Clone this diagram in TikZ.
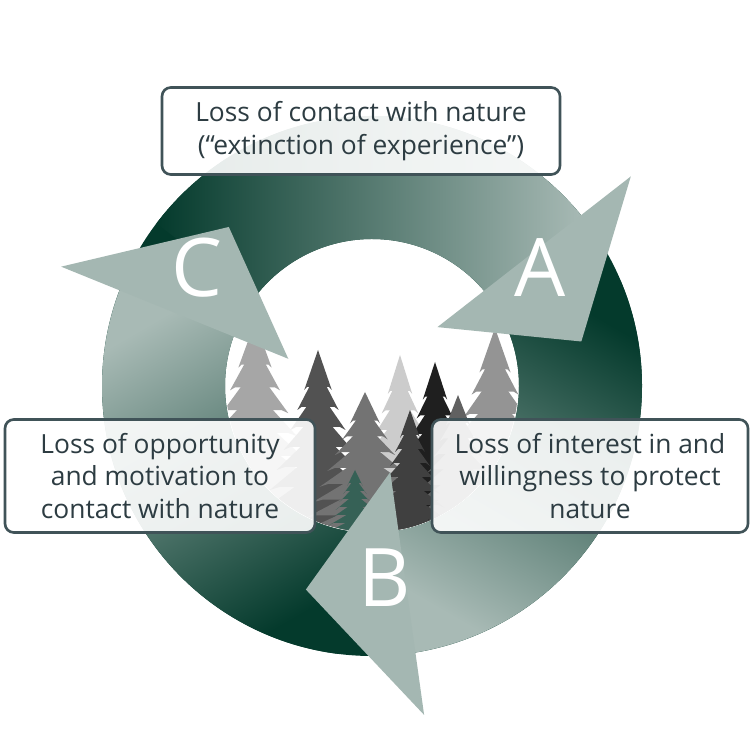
\documentclass[tikz,border=0pt]{standalone}
\usepackage{fontspec}
\setmainfont{Open Sans}
\definecolor{ringdark}{RGB}{4,58,44}
\definecolor{arrlight}{RGB}{168,186,181}
\definecolor{arrmid}{RGB}{120,150,142}
\definecolor{boxline}{RGB}{64,83,88}
\definecolor{boxtext}{RGB}{45,60,66}
\newcommand\mytree[4]{%
 \pgfmathsetmacro\yt{750-#2}%
 \pgfmathsetmacro\hh{(750-#2)-200}%
 \foreach \k in {0,...,8}{%
   \pgfmathsetmacro\ya{\yt-\k*\hh/10}%
   \pgfmathsetmacro\yb{\ya-\hh*0.2}%
   \pgfmathsetmacro\wb{#3*(\k+2)/9}%
   \fill[#4] (#1,\ya) -- (#1+\wb,\yb) -- (#1+\wb*0.8,\yb+3) -- (#1-\wb*0.8,\yb+3) -- (#1-\wb,\yb) -- cycle;
 }%
 \fill[#4] (#1-#3*0.15,\yt-\hh*0.3) rectangle (#1+#3*0.15,200);%
}
\tikzset{
 txtbox/.style={draw=boxline, line width=1.5pt, rounded corners=5pt, fill=white, fill opacity=0.9, text opacity=1, text=boxtext, align=center, font=\fontsize{15}{18.7}\selectfont, inner sep=0pt},
 letter/.style={text=white, font=\fontsize{46}{50}\selectfont},
}
\begin{document}
\begin{tikzpicture}[x=0.02cm,y=0.02cm]
\useasboundingbox (0,0) rectangle (750,750);
\fill[white] (0,0) rectangle (750,750);
\coordinate (c) at (372,364);
% ring
\fill[ringdark,even odd rule] (c) circle[radius=270] (c) circle[radius=147];
% trees in hole
\begin{scope}
\clip (c) circle[radius=146];
\mytree{255}{322}{75}{black!35}
\mytree{495}{328}{70}{black!42}
\mytree{318}{350}{62}{black!68}
\mytree{400}{355}{55}{black!20}
\mytree{435}{362}{55}{black!88}
\mytree{365}{392}{68}{black!55}
\mytree{458}{395}{55}{black!62}
\mytree{410}{410}{45}{black!75}
\mytree{355}{470}{35}{ringdark!80}
\end{scope}
% arrow bodies
\foreach \h/\sa in {38/90, -82/-30, 158/210}{
 \shade[left color=ringdark, right color=arrlight, shading angle=\sa]
  ([shift={(\h+105:270)}]c) arc[start angle=\h+105, end angle=\h, radius=270]
  -- ([shift={(\h:147)}]c) arc[start angle=\h, end angle=\h+105, radius=147] -- cycle;
}
% arrow heads
\foreach \h in {38,-82,158}{
 \fill[arrlight!92!arrmid]
  ([shift={(\h+1:333)}]c) coordinate (o\h) -- ([shift={(\h-26:214)}]c) coordinate (t\h) -- ([shift={(\h+4:88)}]c) coordinate (i\h) -- cycle;
}
\node[letter] (la) at (540,482) {A};
\node[letter] (lb) at (385,172) {B};
\node[letter] (lc) at (197,482) {C};
% boxes
\node[txtbox, minimum width=398*0.02cm, minimum height=87*0.02cm] (top) at (361,619)
 {Loss of contact with nature\\(“extinction of experience”)};
\node[txtbox, minimum width=310*0.02cm, minimum height=113*0.02cm] (left) at (160,274)
 {Loss of opportunity\\and motivation to\\contact with nature};
\node[txtbox, minimum width=316*0.02cm, minimum height=113*0.02cm] (right) at (590,274)
 {Loss of interest in and\\willingness to protect\\nature};
\end{tikzpicture}
\end{document}
